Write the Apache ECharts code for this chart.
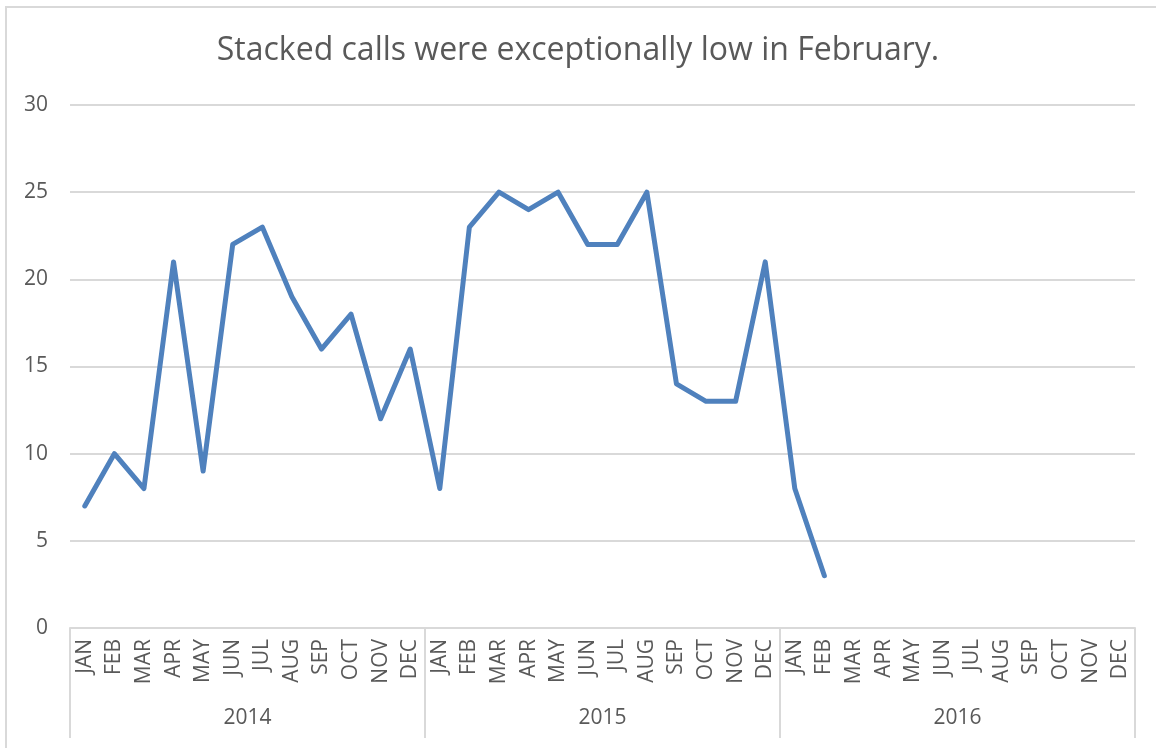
<!DOCTYPE html>
<html>
<head>
    <meta charset="utf-8">
    <title>Stacked calls</title>
    <script src="https://cdn.jsdelivr.net/npm/echarts@6/dist/echarts.min.js"></script>
    <style>
        html, body { margin: 0; padding: 0; background: #fff; overflow: hidden; }
        #frame { position: absolute; left: 5px; top: 6px; width: 1300px; height: 900px; border: 2px solid #d9d9d9; }
        #main { position: absolute; left: 0; top: 0; width: 1156px; height: 748px; }
    </style>
</head>
<body>
<div id="frame"></div>
<div id="main"></div>
<script type="text/javascript">
    var months = ['JAN', 'FEB', 'MAR', 'APR', 'MAY', 'JUN', 'JUL', 'AUG', 'SEP', 'OCT', 'NOV', 'DEC'];
    var years = ['2014', '2015', '2016'];
    var calls2014 = [7, 10, 8, 21, 9, 22, 23, 19, 16, 18, 12, 16];
    var calls2015 = [8, 23, 25, 24, 25, 22, 22, 25, 14, 13, 13, 21];
    var calls2016 = [8, 3, null, null, null, null, null, null, null, null, null, null];

    var monthCats = [];
    years.forEach(function (y) {
        months.forEach(function (m) { monthCats.push(m + ' ' + y); });
    });
    var values = calls2014.concat(calls2015, calls2016);

    var textColor = '#595959';
    var lineGrey = '#d9d9d9';
    var font = '"Open Sans", "Noto Sans", sans-serif';

    var chart = echarts.init(document.getElementById('main'));
    var option = {
        animation: false,
        title: {
            text: 'Stacked calls were exceptionally low in February.',
            left: 'center',
            top: 30,
            textStyle: { color: textColor, fontSize: 32, fontWeight: 'normal', fontFamily: font }
        },
        grid: { left: 70, right: 21, top: 105, bottom: 120 },
        xAxis: [
            {
                type: 'category',
                data: monthCats,
                boundaryGap: true,
                axisLine: { show: true, lineStyle: { color: lineGrey, width: 2 } },
                axisTick: { show: false },
                axisLabel: {
                    interval: 0,
                    rotate: 90,
                    margin: 11,
                    color: textColor,
                    fontSize: 21,
                    fontFamily: font,
                    formatter: function (v) { return v.split(' ')[0]; }
                },
                splitLine: { show: false }
            },
            {
                type: 'category',
                data: years,
                position: 'bottom',
                boundaryGap: true,
                axisLine: { show: false },
                axisTick: { show: true, length: 110, inside: false, lineStyle: { color: lineGrey, width: 2 } },
                axisLabel: { margin: 80, color: textColor, fontSize: 21, fontFamily: font },
                splitLine: { show: false }
            }
        ],
        yAxis: {
            type: 'value',
            min: 0,
            max: 30,
            interval: 5,
            axisLine: { show: false },
            axisTick: { show: false },
            axisLabel: { color: textColor, fontSize: 21, fontFamily: font, margin: 22 },
            splitLine: { lineStyle: { color: lineGrey, width: 2 } }
        },
        series: [
            {
                type: 'line',
                data: values,
                xAxisIndex: 0,
                showSymbol: false,
                symbol: 'none',
                connectNulls: false,
                lineStyle: { color: '#4f81bd', width: 5, cap: 'round', join: 'round' },
                itemStyle: { color: '#4f81bd' }
            }
        ]
    };
    chart.setOption(option);
</script>
</body>
</html>
